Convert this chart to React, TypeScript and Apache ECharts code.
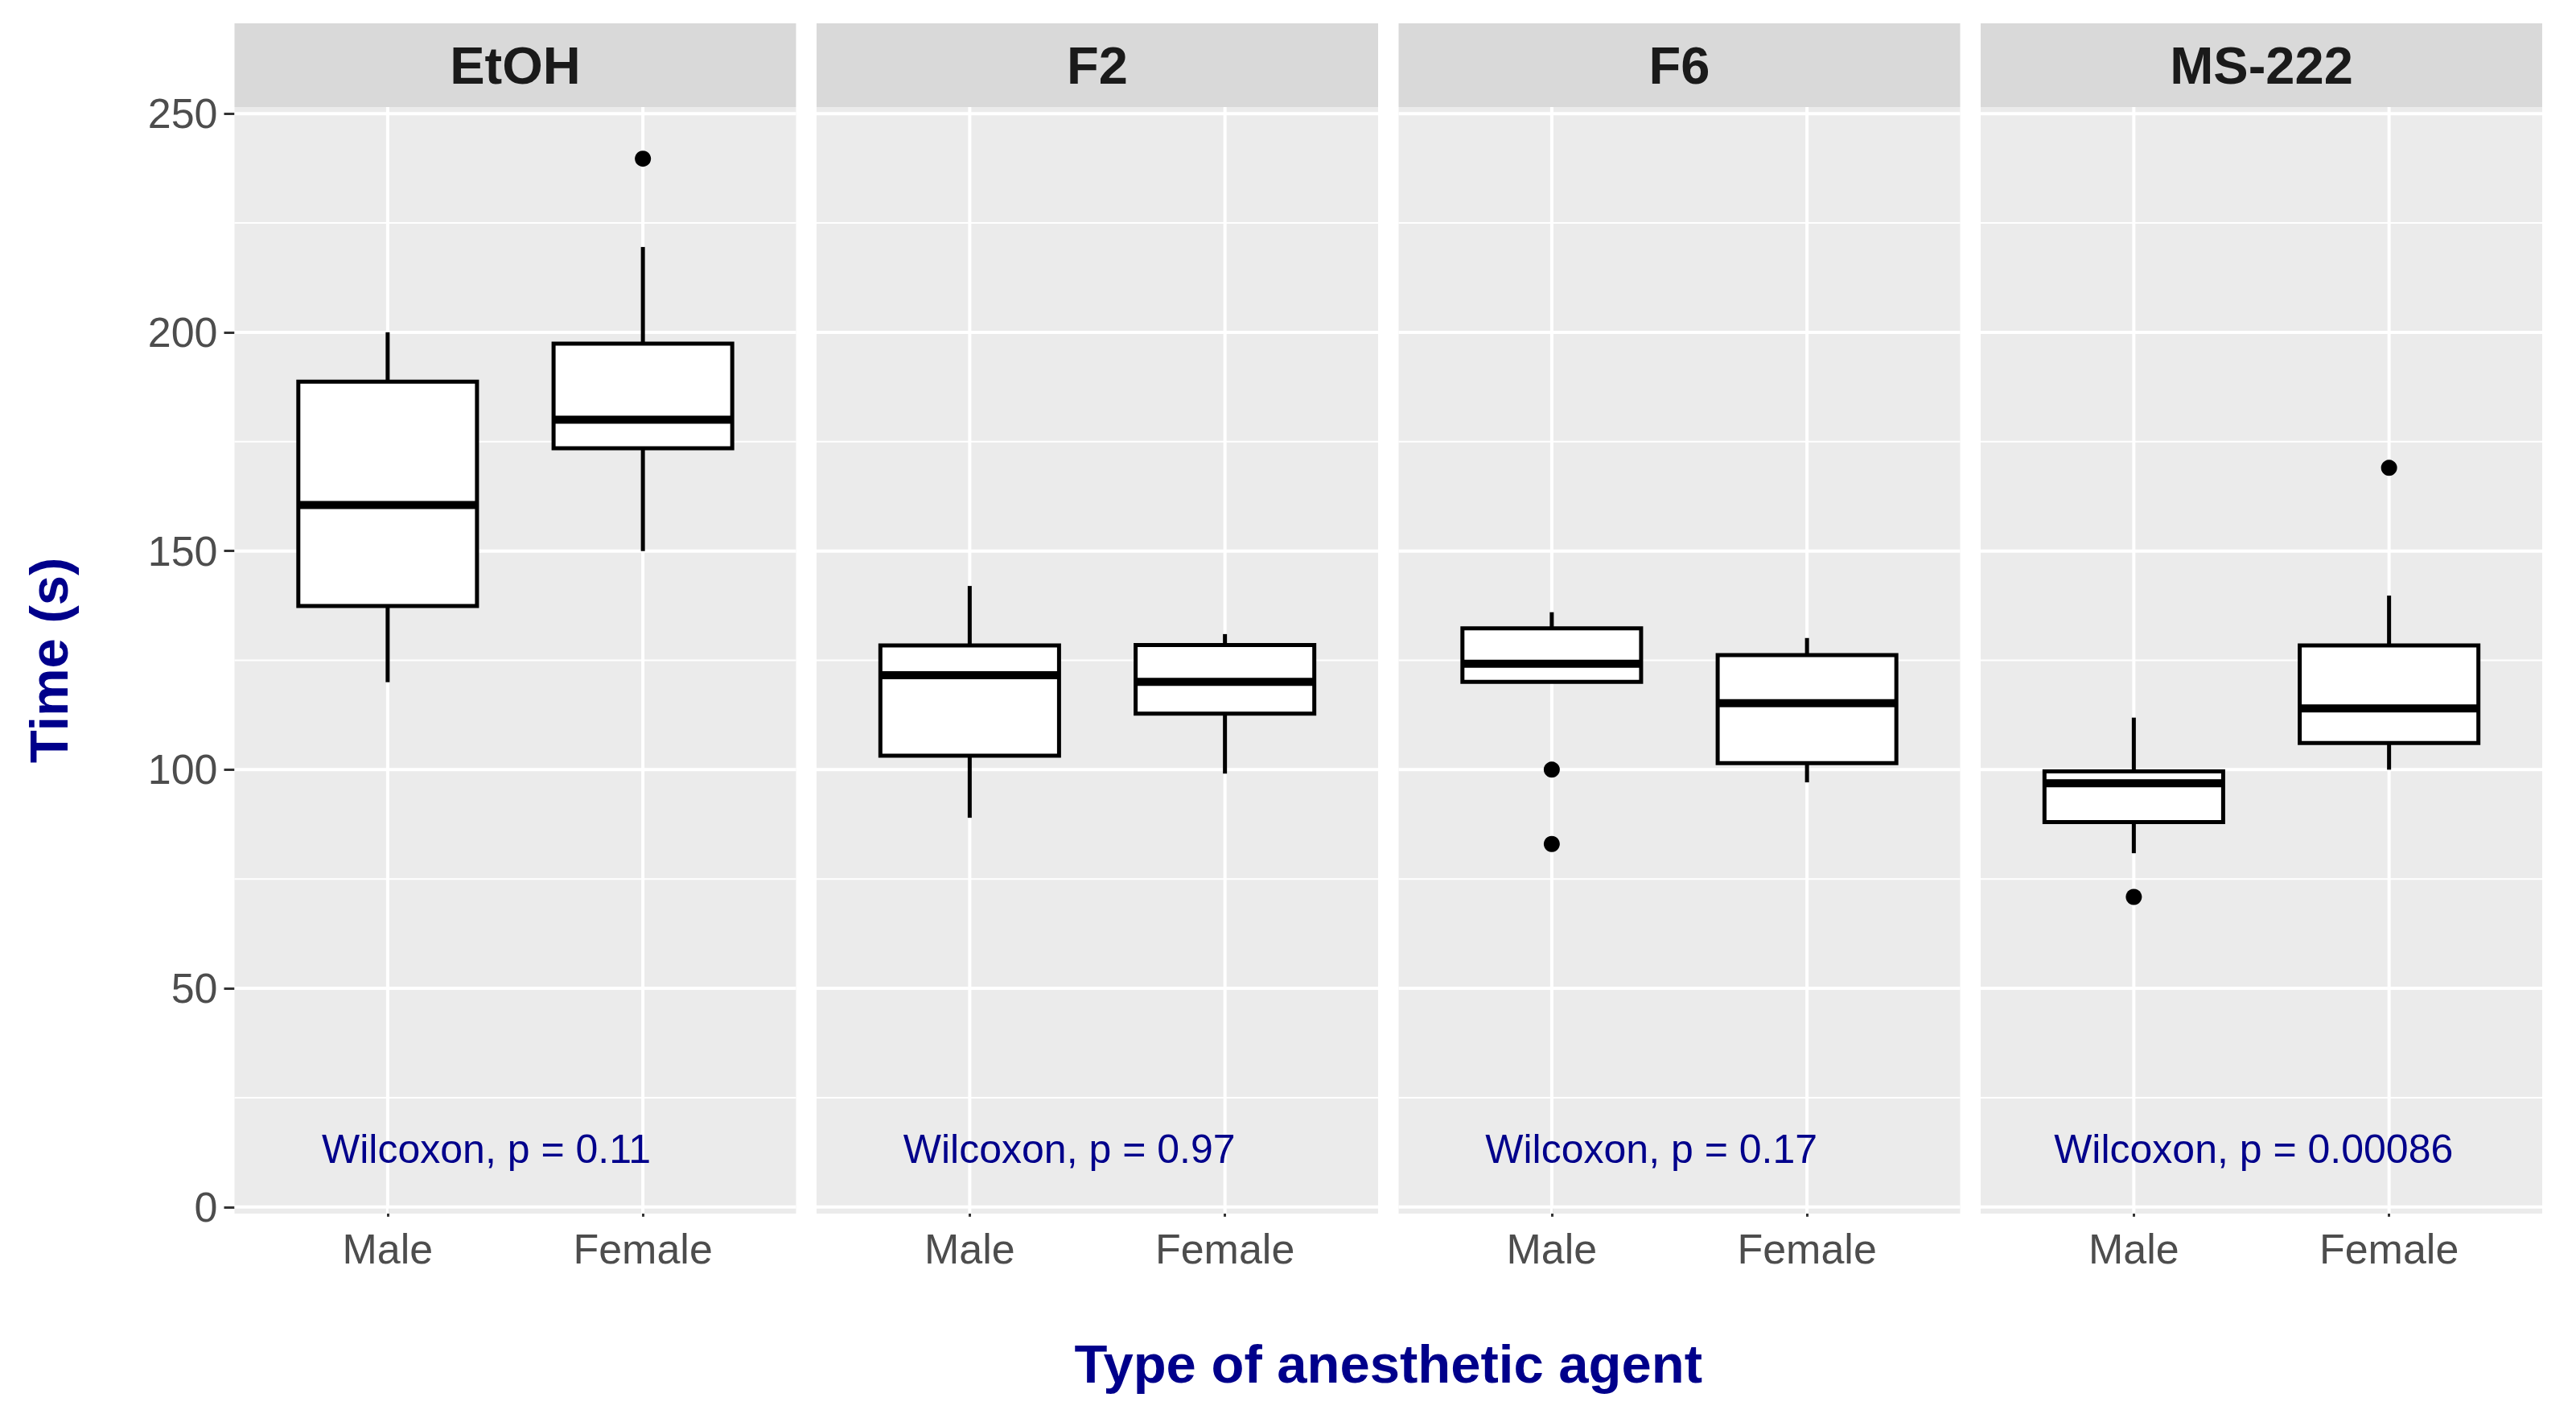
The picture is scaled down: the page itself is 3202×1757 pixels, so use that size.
import React, { useEffect, useRef } from 'react';
import * as echarts from 'echarts';

// ---------- data ----------
const panelNames = ['EtOH', 'F2', 'F6', 'MS-222'];
const sexLabels = ['Male', 'Female'];
// [lower whisker, Q1, median, Q3, upper whisker] for Male, then Female
const etohBoxes = [[120, 137.4, 160.5, 188.7, 200], [150, 173.5, 180, 197.4, 219.5]];
const f2Boxes = [[89, 103.2, 121.6, 128.4, 142], [99.1, 112.8, 120.1, 128.5, 131]];
const f6Boxes = [[120.1, 120.1, 124.2, 132.3, 136], [97.1, 101.5, 115.2, 126.2, 130.1]];
const ms222Boxes = [[80.9, 88, 96.9, 99.6, 111.9], [100, 106.1, 114, 128.4, 139.8]];
// [group (1 = Male, 2 = Female), value]
const etohOutliers = [[2, 239.7]];
const f2Outliers: number[][] = [];
const f6Outliers = [[1, 100], [1, 83]];
const ms222Outliers = [[1, 70.9], [2, 169]];
const pLabels = ['Wilcoxon, p = 0.11', 'Wilcoxon, p = 0.97', 'Wilcoxon, p = 0.17', 'Wilcoxon, p = 0.00086'];
const yMajorTicks = [0, 50, 100, 150, 200, 250];
const yMinorTicks = [25, 75, 125, 175, 225];
const xGroupPositions = [1, 2];

const allBoxes = [etohBoxes, f2Boxes, f6Boxes, ms222Boxes];
const allOutliers = [etohOutliers, f2Outliers, f6Outliers, ms222Outliers];

// ---------- layout / style ----------
const FONT = "'Liberation Sans', Arial, Helvetica, sans-serif";
const W = 3202;
const H = 1757;
const PANEL_LEFT = 291.5;
const PANEL_W = 698;
const PANEL_GAP = 25.5;
const PANEL_TOP = 133;
const PANEL_H = 1375;
const STRIP_TOP = 29;
const STRIP_H = 104;
const X_MIN = 0.4;
const X_MAX = 2.6;
const Y_MIN = -1.5;
const Y_MAX = 251.5;
const BOX_HALF = 0.35;
const LABEL_X = 1;
const LABEL_Y = 13.2;
const LABEL_HJUST = 0.2;
const P_FONT_SIZE = 50;
const DARKBLUE = '#00008B';

let measureCtx: CanvasRenderingContext2D | null = null;
function textWidth(text: string, font: string): number {
  if (!measureCtx) {
    const c = document.createElement('canvas');
    measureCtx = c.getContext('2d');
  }
  if (!measureCtx) return text.length * 25;
  measureCtx.font = font;
  return measureCtx.measureText(text).width;
}

function buildOption() {
  const grids: any[] = [];
  const xAxes: any[] = [];
  const yAxes: any[] = [];
  const series: any[] = [];
  const graphics: any[] = [];

  panelNames.forEach((name, i) => {
    const left = PANEL_LEFT + i * (PANEL_W + PANEL_GAP);
    grids.push({
      left,
      top: PANEL_TOP,
      width: PANEL_W,
      height: PANEL_H,
      show: true,
      backgroundColor: '#EBEBEB',
      borderWidth: 0,
      containLabel: false,
    });
    xAxes.push({
      gridIndex: i,
      type: 'value',
      min: X_MIN,
      max: X_MAX,
      axisLine: { show: false },
      splitLine: { show: false },
      axisTick: {
        show: true,
        customValues: xGroupPositions,
        length: 12,
        lineStyle: { color: '#333333', width: 3 },
      },
      axisLabel: {
        show: true,
        customValues: xGroupPositions,
        formatter: (v: number) => sexLabels[Math.round(v) - 1] || '',
        margin: 18,
        fontSize: 52,
        color: '#4D4D4D',
        fontFamily: FONT,
      },
    });
    yAxes.push({
      gridIndex: i,
      type: 'value',
      min: Y_MIN,
      max: Y_MAX,
      axisLine: { show: false },
      splitLine: { show: false },
      axisTick: {
        show: i === 0,
        customValues: yMajorTicks,
        length: 13,
        lineStyle: { color: '#333333', width: 3 },
      },
      axisLabel: {
        show: i === 0,
        customValues: yMajorTicks,
        margin: 21,
        fontSize: 52,
        color: '#4D4D4D',
        fontFamily: FONT,
      },
    });

    // grid lines
    const gridData = [
      ...yMajorTicks.map((v) => [0, v]),
      ...yMinorTicks.map((v) => [1, v]),
      ...xGroupPositions.map((v) => [2, v]),
    ];
    series.push({
      type: 'custom',
      xAxisIndex: i,
      yAxisIndex: i,
      z: 1,
      silent: true,
      data: gridData,
      encode: { x: 1, y: 1 },
      renderItem: (params: any, api: any) => {
        const kind = api.value(0);
        const v = api.value(1);
        let p1: number[];
        let p2: number[];
        if (kind === 2) {
          p1 = api.coord([v, Y_MIN]);
          p2 = api.coord([v, Y_MAX]);
        } else {
          p1 = api.coord([X_MIN, v]);
          p2 = api.coord([X_MAX, v]);
        }
        return {
          type: 'line',
          shape: { x1: p1[0], y1: p1[1], x2: p2[0], y2: p2[1] },
          style: { stroke: '#FFFFFF', lineWidth: kind === 1 ? 2 : 4 },
        };
      },
    });

    // boxes
    const boxes = allBoxes[i];
    series.push({
      type: 'custom',
      xAxisIndex: i,
      yAxisIndex: i,
      z: 3,
      silent: true,
      data: boxes.map((b, j) => [xGroupPositions[j], ...b]),
      encode: { x: 0, y: [1, 2, 3, 4, 5] },
      renderItem: (params: any, api: any) => {
        const x = api.value(0);
        const lo = api.value(1);
        const q1 = api.value(2);
        const med = api.value(3);
        const q3 = api.value(4);
        const hi = api.value(5);
        const tl = api.coord([x - BOX_HALF, q3]);
        const br = api.coord([x + BOX_HALF, q1]);
        const pHi = api.coord([x, hi]);
        const pQ3 = api.coord([x, q3]);
        const pQ1 = api.coord([x, q1]);
        const pLo = api.coord([x, lo]);
        const ml = api.coord([x - BOX_HALF, med]);
        const mr = api.coord([x + BOX_HALF, med]);
        const lineStyle = { stroke: '#000000', lineWidth: 5 };
        return {
          type: 'group',
          children: [
            { type: 'line', shape: { x1: pHi[0], y1: pHi[1], x2: pQ3[0], y2: pQ3[1] }, style: lineStyle },
            { type: 'line', shape: { x1: pQ1[0], y1: pQ1[1], x2: pLo[0], y2: pLo[1] }, style: lineStyle },
            {
              type: 'rect',
              shape: { x: tl[0], y: tl[1], width: br[0] - tl[0], height: br[1] - tl[1] },
              style: { fill: '#FFFFFF', stroke: '#000000', lineWidth: 5 },
            },
            {
              type: 'line',
              shape: { x1: ml[0], y1: ml[1], x2: mr[0], y2: mr[1] },
              style: { stroke: '#000000', lineWidth: 10 },
            },
          ],
        };
      },
    });

    // outliers
    series.push({
      type: 'scatter',
      xAxisIndex: i,
      yAxisIndex: i,
      z: 4,
      silent: true,
      symbol: 'circle',
      symbolSize: 20,
      itemStyle: { color: '#000000', opacity: 1 },
      data: allOutliers[i],
    });

    // p-value label
    const label = pLabels[i];
    series.push({
      type: 'custom',
      xAxisIndex: i,
      yAxisIndex: i,
      z: 5,
      silent: true,
      data: [[LABEL_X, LABEL_Y]],
      renderItem: (params: any, api: any) => {
        const pt = api.coord([api.value(0), api.value(1)]);
        const w = textWidth(label, `${P_FONT_SIZE}px ${FONT}`);
        return {
          type: 'text',
          x: pt[0] - LABEL_HJUST * w,
          y: pt[1],
          style: {
            text: label,
            fill: DARKBLUE,
            fontSize: P_FONT_SIZE,
            fontFamily: FONT,
            align: 'left',
            verticalAlign: 'middle',
          },
        };
      },
    });

    // strip
    graphics.push({
      type: 'rect',
      shape: { x: left, y: STRIP_TOP, width: PANEL_W, height: STRIP_H },
      style: { fill: '#D9D9D9' },
      silent: true,
    });
    graphics.push({
      type: 'text',
      x: left + PANEL_W / 2,
      y: STRIP_TOP + STRIP_H / 2,
      style: {
        text: name,
        fill: '#1A1A1A',
        fontSize: 65,
        fontWeight: 'bold',
        fontFamily: FONT,
        align: 'center',
        verticalAlign: 'middle',
      },
      silent: true,
    });
  });

  const panelsRight = PANEL_LEFT + 4 * PANEL_W + 3 * PANEL_GAP;
  graphics.push({
    type: 'text',
    x: (PANEL_LEFT + panelsRight) / 2,
    y: 1694,
    style: {
      text: 'Type of anesthetic agent',
      fill: DARKBLUE,
      fontSize: 67,
      fontWeight: 'bold',
      fontFamily: FONT,
      align: 'center',
      verticalAlign: 'middle',
    },
    silent: true,
  });
  graphics.push({
    type: 'text',
    x: 60,
    y: PANEL_TOP + PANEL_H / 2,
    rotation: Math.PI / 2,
    style: {
      text: 'Time (s)',
      fill: DARKBLUE,
      fontSize: 67,
      fontWeight: 'bold',
      fontFamily: FONT,
      align: 'center',
      verticalAlign: 'middle',
    },
    silent: true,
  });

  return {
    animation: false,
    backgroundColor: '#FFFFFF',
    grid: grids,
    xAxis: xAxes,
    yAxis: yAxes,
    series,
    graphic: graphics,
  };
}

export default function App() {
  const ref = useRef<HTMLDivElement>(null);
  useEffect(() => {
    if (!ref.current) return;
    const chart = echarts.init(ref.current, undefined, { renderer: 'svg' });
    chart.setOption(buildOption() as any);
    return () => {
      chart.dispose();
    };
  }, []);
  return (
    <div
      ref={ref}
      style={{ position: 'absolute', left: 0, top: 0, width: W, height: H, background: '#FFFFFF' }}
    />
  );
}
